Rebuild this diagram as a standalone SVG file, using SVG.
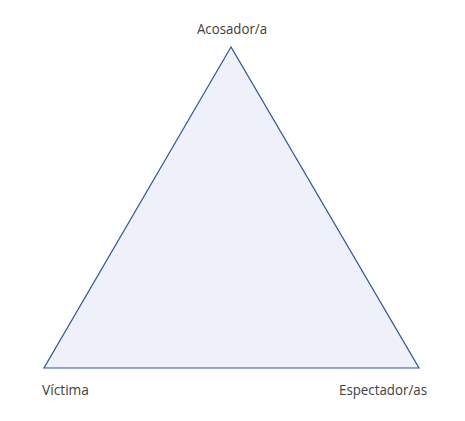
<svg xmlns="http://www.w3.org/2000/svg" width="465" height="421" viewBox="0 0 465 421">
<style>
.lbl{font-family:"Open Sans","Liberation Sans",sans-serif;font-size:14px;fill:#404040}
</style>
<rect width="465" height="421" fill="#ffffff"/>
<g id="triangle">
<polygon points="231,47 44,368 419,368" fill="#EEF1FA" stroke="#2F5597" stroke-width="1.2" stroke-linejoin="miter"/>
</g>
<g id="connectors"></g>
<g id="acosador"><text class="lbl" x="232" y="34" text-anchor="middle" textLength="70" lengthAdjust="spacingAndGlyphs">Acosador/a</text></g>
<g id="victima"><text class="lbl" x="42" y="395" textLength="47" lengthAdjust="spacingAndGlyphs">Víctima</text></g>
<g id="espectador"><text class="lbl" x="339" y="395" textLength="88" lengthAdjust="spacingAndGlyphs">Espectador/as</text></g>
</svg>
